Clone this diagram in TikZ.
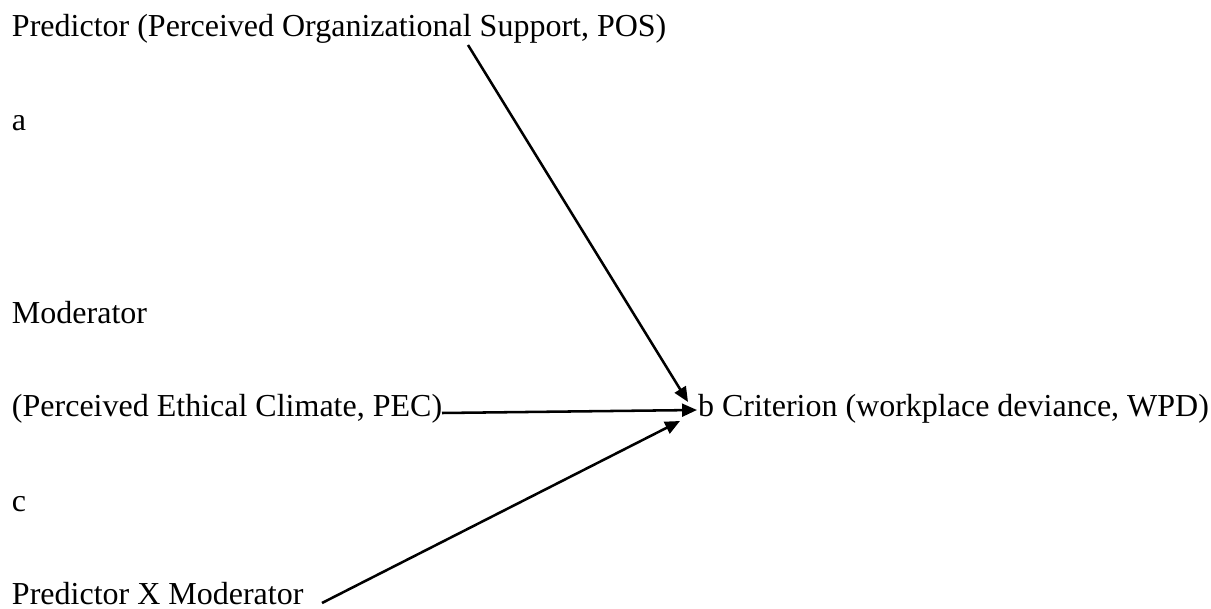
\documentclass[tikz,border=0pt]{standalone}
\usepackage{fontspec}
\setmainfont{Liberation Serif}
\usetikzlibrary{arrows.meta}
\begin{document}
\begin{tikzpicture}[x=0.375pt,y=-0.375pt,
  lbl/.style={anchor=base west,inner sep=0pt,outer sep=0pt,font=\fontsize{12pt}{14pt}\selectfont},
  conn/.style={line width=0.95pt,-{Triangle[length=5.6pt,width=4.8pt]}}]
\useasboundingbox (0,0) rectangle (1211,609);
\node[lbl] (pos) at (12,37) {Predictor (Perceived Organizational Support, POS)};
\node[lbl] (la) at (12,131) {a};
\node[lbl] (mod) at (12,324) {Moderator};
\node[lbl] (pec) at (12,417) {(Perceived Ethical Climate, PEC)};
\node[lbl] (lc) at (12,511) {c};
\node[lbl] (int) at (12,604) {Predictor X Moderator};
\node[lbl] (crit) at (698,417) {b Criterion (workplace deviance, WPD)};
\coordinate (s1) at (468,45);
\coordinate (t1) at (688,402);
\coordinate (s2) at (442,413);
\coordinate (t2) at (697,410);
\coordinate (s3) at (322,603);
\coordinate (t3) at (680,421);
\draw[conn] (s1) -- (t1);
\draw[conn] (s2) -- (t2);
\draw[conn] (s3) -- (t3);
\end{tikzpicture}
\end{document}
